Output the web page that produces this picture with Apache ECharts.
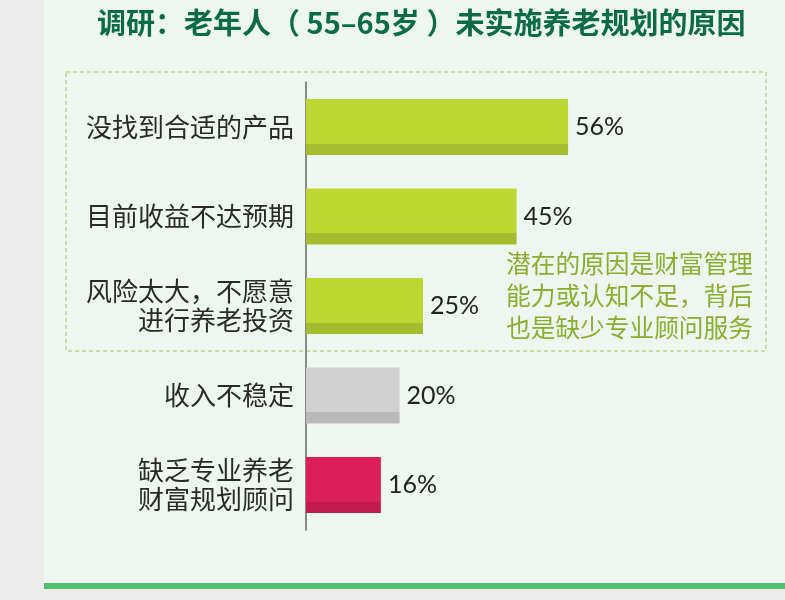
<!DOCTYPE html>
<html><head><meta charset="utf-8">
<script src="https://cdn.jsdelivr.net/npm/echarts@6/dist/echarts.min.js"></script>
<style>html,body{margin:0;padding:0;background:#ececec}#c{width:785px;height:600px}</style>
</head><body><div id="c"></div>
<script>
const titleText = '调研：老年人（ 55–65岁 ）未实施养老规划的原因';
const categories = ['没找到合适的产品', '目前收益不达预期', '风险太大，不愿意\n进行养老投资', '收入不稳定', '缺乏专业养老\n财富规划顾问'];
const values = [56, 45, 25, 20, 16];
const noteText = '潜在的原因是财富管理\n能力或认知不足，背后\n也是缺少专业顾问服务';

const palettes = [
  ['#bcd632', '#a5bc2e'],
  ['#bcd632', '#a5bc2e'],
  ['#bcd632', '#a5bc2e'],
  ['#d0d0d0', '#b9b9b9'],
  ['#dc1f5a', '#c11c50']
];
function grad(p) {
  return new echarts.graphic.LinearGradient(0, 0, 0, 1, [
    {offset: 0, color: p[0]}, {offset: 0.8, color: p[0]},
    {offset: 0.8, color: p[1]}, {offset: 1, color: p[1]}
  ]);
}
const chart = echarts.init(document.getElementById('c'));
chart.setOption({
  backgroundColor: '#ececec',
  animation: false,
  graphic: [
    {type: 'rect', z: -10, shape: {x: 44, y: 0, width: 741, height: 583}, style: {fill: '#edf7ef'}},
    {type: 'rect', z: -10, shape: {x: 44, y: 583, width: 741, height: 6}, style: {fill: '#55be72'}},
    {type: 'rect', z: -5, shape: {x: 66, y: 72, width: 700, height: 279}, style: {fill: 'none', stroke: '#a9c35a', lineWidth: 1, lineDash: [4, 3]}},
    {type: 'text', left: 506, top: 248, style: {text: noteText, font: '24.7px "Noto Sans CJK SC"', lineHeight: 32, fill: '#8cad2f'}}
  ],
  title: {
    text: titleText, left: 92, top: 3,
    textStyle: {fontFamily: '"Noto Sans CJK SC"', fontWeight: 'bold', fontSize: 29, color: '#0b6a47'}
  },
  grid: {left: 306, right: 11, top: 82.25, height: 447.5, containLabel: false},
  xAxis: {type: 'value', min: 0, max: 100, show: false},
  yAxis: {
    type: 'category', data: categories, inverse: true,
    axisLine: {show: true, lineStyle: {color: '#888888', width: 2}},
    axisTick: {show: false},
    axisLabel: {margin: 12, fontFamily: '"Noto Sans CJK SC"', fontSize: 26, lineHeight: 29, color: '#2a2a2a', align: 'right'}
  },
  series: [{
    type: 'bar', barWidth: 56,
    data: values.map((v, i) => ({value: v, itemStyle: {color: grad(palettes[i])}})),
    label: {show: true, position: 'right', distance: 7, formatter: '{c}%', fontFamily: 'Lato', fontSize: 25, color: '#222222'}
  }]
});
</script></body></html>
